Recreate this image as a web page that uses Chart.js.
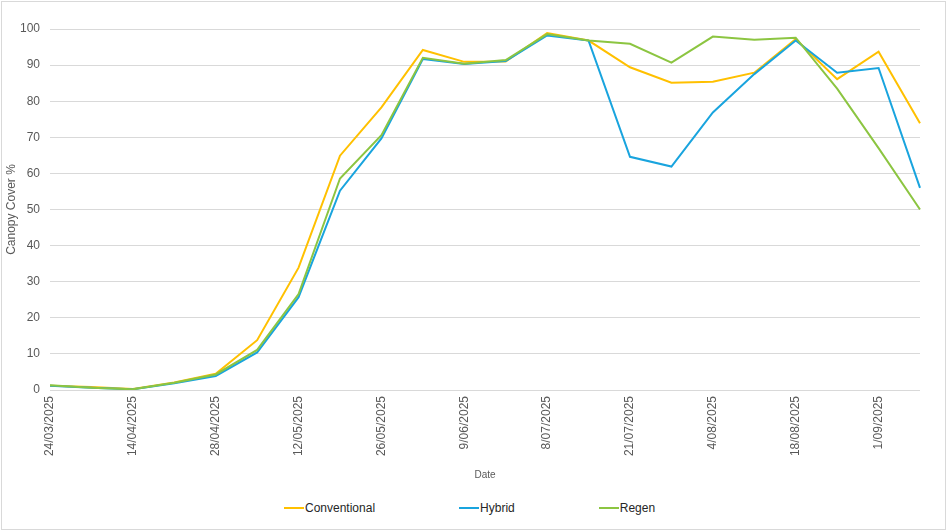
<!DOCTYPE html>
<html>
<head>
<meta charset="utf-8">
<script src="https://cdn.jsdelivr.net/npm/chart.js@4"></script>
<style>
  html, body { margin: 0; padding: 0; background: #ffffff; }
  #wrap { position: relative; width: 947px; height: 530px; overflow: hidden; background: #fff; }
  #frame { position: absolute; left: 1px; top: 1px; width: 945px; height: 529px; border: 1px solid #d9d9d9; box-sizing: border-box; pointer-events: none; }
  #chart { position: absolute; left: 0; top: 0; }
  #legend { position: absolute; left: 284px; top: 498px; height: 20px; display: flex; align-items: center; gap: 84px;
            font-family: 'Liberation Sans Narrow', 'Liberation Sans', Arial, sans-serif; font-size: 12px; color: #262626; }
  .item { display: flex; align-items: center; white-space: nowrap; }
  .swatch { width: 20px; height: 2px; margin-right: 1px; }
</style>
</head>
<body>
<div id="wrap">
  <canvas id="chart" width="947" height="490" style="width:947px;height:490px"></canvas>
  <div id="legend"></div>
  <div id="frame"></div>
</div>
<script>
const categories = ["24/03/2025","4/04/2025","14/04/2025","21/04/2025","28/04/2025","5/05/2025","12/05/2025","19/05/2025","26/05/2025","2/06/2025","9/06/2025","23/06/2025","8/07/2025","14/07/2025","21/07/2025","28/07/2025","4/08/2025","11/08/2025","18/08/2025","25/08/2025","1/09/2025","8/09/2025"];
const seriesNames = ["Conventional", "Hybrid", "Regen"];
const conventional = [1.2, 0.8, 0.3, 2.1, 4.5, 13.8, 33.9, 64.9, 78.3, 94.2, 90.9, 91.0, 98.9, 96.8, 89.4, 85.1, 85.4, 87.9, 97.2, 86.1, 93.7, 73.9];
const hybrid       = [1.2, 0.6, 0.2, 1.9, 3.9, 10.4, 25.7, 55.2, 69.7, 91.7, 90.3, 91.1, 98.2, 96.8, 64.6, 61.9, 76.9, 87.5, 96.8, 87.9, 89.2, 56.0];
const regen        = [1.3, 0.6, 0.2, 2.0, 4.3, 11.1, 26.6, 58.6, 70.6, 92.0, 90.4, 91.4, 98.6, 96.8, 95.9, 90.7, 97.9, 97.0, 97.6, 83.5, 67.0, 50.0];
const yTicks = { min: 0, max: 100, step: 10 };
const xTitle = "Date";
const yTitle = "Canopy Cover %";
const colors = ["#FFC000", "#19A4DE", "#8CC541"];

const ds = (label, data, color, order) => ({
  label, data, borderColor: color, backgroundColor: color, borderWidth: 2,
  pointRadius: 0, tension: 0, fill: false, order
});

const htmlLegend = {
  id: 'htmlLegend',
  afterUpdate(chart) {
    const box = document.getElementById('legend');
    box.innerHTML = '';
    chart.data.datasets.forEach(d => {
      const item = document.createElement('div');
      item.className = 'item';
      const sw = document.createElement('span');
      sw.className = 'swatch';
      sw.style.background = d.borderColor;
      const tx = document.createElement('span');
      tx.textContent = d.label;
      item.appendChild(sw); item.appendChild(tx);
      box.appendChild(item);
    });
  }
};

new Chart(document.getElementById('chart'), {
  type: 'line',
  data: {
    labels: categories,
    datasets: [
      ds(seriesNames[0], conventional, colors[0], 2),
      ds(seriesNames[1], hybrid, colors[1], 1),
      ds(seriesNames[2], regen, colors[2], 0)
    ]
  },
  options: {
    responsive: false,
    devicePixelRatio: 1,
    animation: false,
    layout: { padding: { top: 29, right: 27, left: 0, bottom: 0 } },
    plugins: {
      legend: { display: false },
      tooltip: { enabled: false }
    },
    scales: {
      x: {
        type: 'category',
        offset: false,
        grid: { display: false, drawTicks: false },
        border: { display: false },
        ticks: {
          autoSkip: false, maxRotation: 90, minRotation: 90, padding: 6,
          color: '#595959', font: { family: 'Liberation Sans', size: 12 },
          callback: function(v, i) { return i % 2 === 0 ? this.getLabelForValue(v) : ''; }
        },
        title: { display: true, text: xTitle, color: '#595959',
                 font: { family: 'Liberation Sans', size: 10 }, padding: { top: 0, bottom: 9 } },
        afterFit: s => { s.height = 100; }
      },
      y: {
        min: yTicks.min, max: yTicks.max,
        grid: { color: '#d9d9d9', lineWidth: 1, drawTicks: false },
        border: { display: false },
        ticks: { stepSize: yTicks.step, padding: 10, color: '#595959',
                 font: { family: 'Liberation Sans', size: 12 } },
        title: { display: true, text: yTitle, color: '#595959',
                 font: { family: 'Liberation Sans', size: 12 }, padding: { top: 4, bottom: 0 } },
        afterFit: s => { s.width = 50; }
      }
    }
  },
  plugins: [htmlLegend]
});
</script>
</body>
</html>
